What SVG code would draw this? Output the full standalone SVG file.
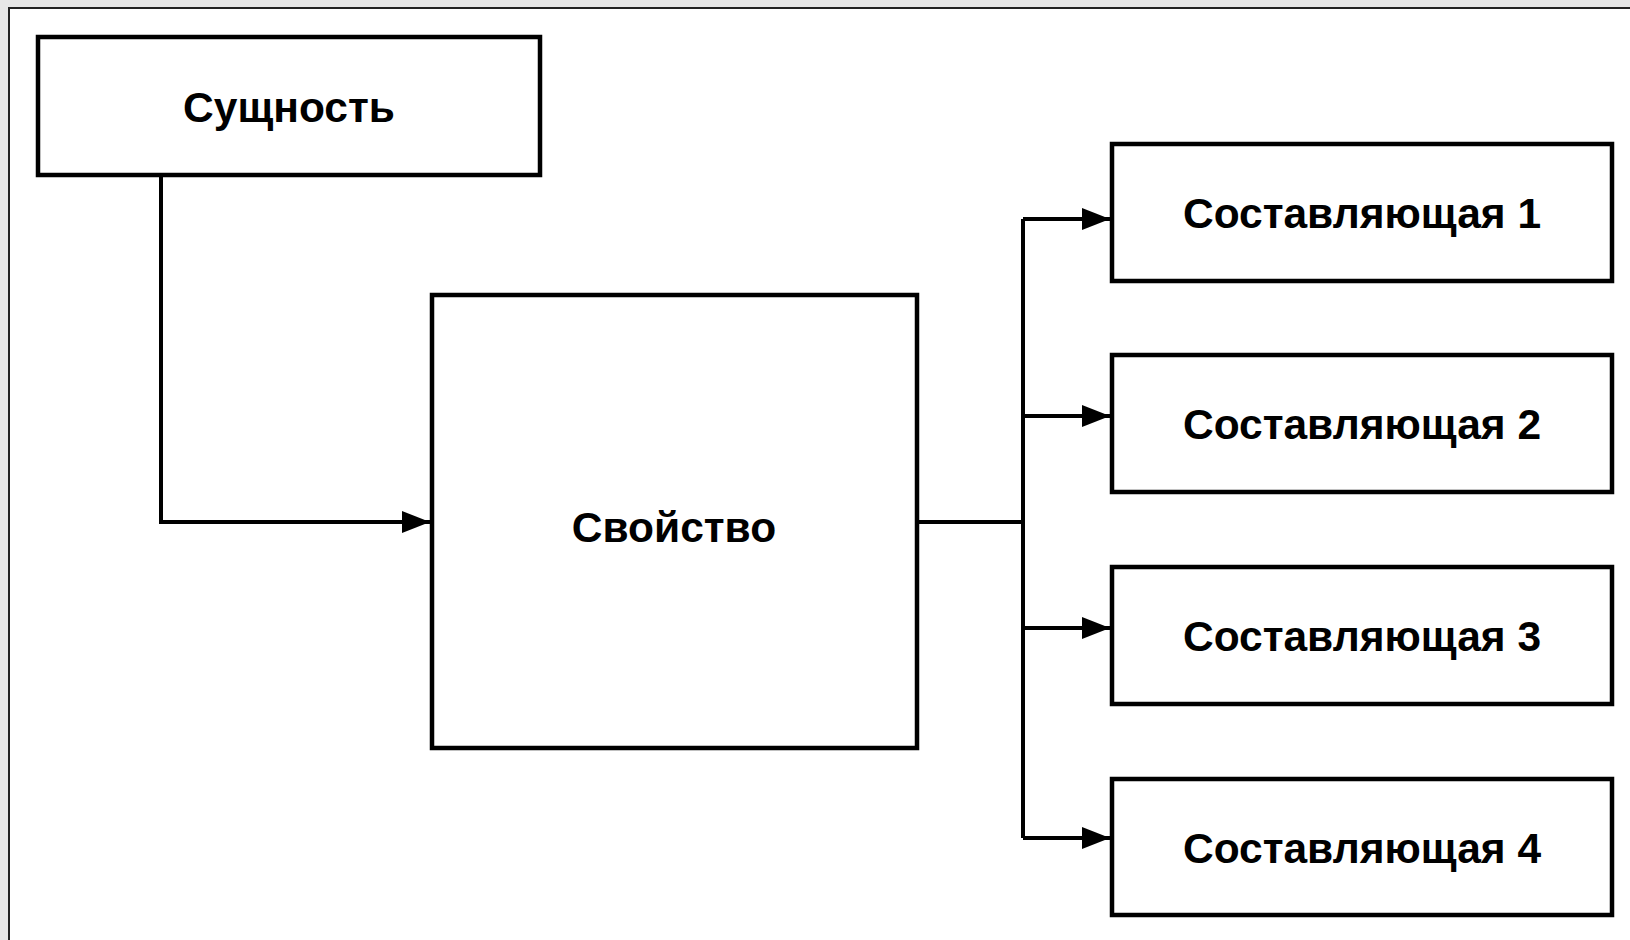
<svg xmlns="http://www.w3.org/2000/svg" width="1630" height="940" viewBox="0 0 1630 940">
<style>
.box{fill:#fff;stroke:#000;stroke-width:4.5}
.lbl{font-family:"Liberation Sans",Arial,sans-serif;font-weight:bold;font-size:42.5px;fill:#000;text-anchor:middle}
.con{fill:none;stroke:#000;stroke-width:4}
</style>
<defs>
<marker id="arr" markerUnits="userSpaceOnUse" markerWidth="30" markerHeight="24" refX="28" refY="11" orient="auto">
<path d="M0,0 L28,11 L0,22 Z" fill="#000"/>
</marker>
</defs>
<rect x="0" y="0" width="1630" height="940" fill="#e6e6e6"/>
<rect x="9" y="8" width="1630" height="940" fill="#fff"/>
<path d="M9,940 V8 H1630" fill="none" stroke="#222" stroke-width="2"/>
<g id="connectors">
<path class="con" d="M161,175 V522 H430" marker-end="url(#arr)"/>
<path class="con" d="M917,522 H1023"/>
<path class="con" d="M1023,219 V838"/>
<path class="con" d="M1023,219 H1110" marker-end="url(#arr)"/>
<path class="con" d="M1023,416 H1110" marker-end="url(#arr)"/>
<path class="con" d="M1023,628 H1110" marker-end="url(#arr)"/>
<path class="con" d="M1023,838 H1110" marker-end="url(#arr)"/>
</g>
<g id="node-essence">
<rect class="box" x="38" y="37" width="502" height="138"/>
<text class="lbl" x="289" y="122">Сущность</text>
</g>
<g id="node-property">
<rect class="box" x="432" y="295" width="485" height="453"/>
<text class="lbl" x="674" y="542">Свойство</text>
</g>
<g id="node-c1">
<rect class="box" x="1112" y="144" width="500" height="137"/>
<text class="lbl" x="1362" y="228">Составляющая 1</text>
</g>
<g id="node-c2">
<rect class="box" x="1112" y="355" width="500" height="137"/>
<text class="lbl" x="1362" y="439">Составляющая 2</text>
</g>
<g id="node-c3">
<rect class="box" x="1112" y="567" width="500" height="137"/>
<text class="lbl" x="1362" y="651">Составляющая 3</text>
</g>
<g id="node-c4">
<rect class="box" x="1112" y="779" width="500" height="136"/>
<text class="lbl" x="1362" y="863">Составляющая 4</text>
</g>
</svg>
